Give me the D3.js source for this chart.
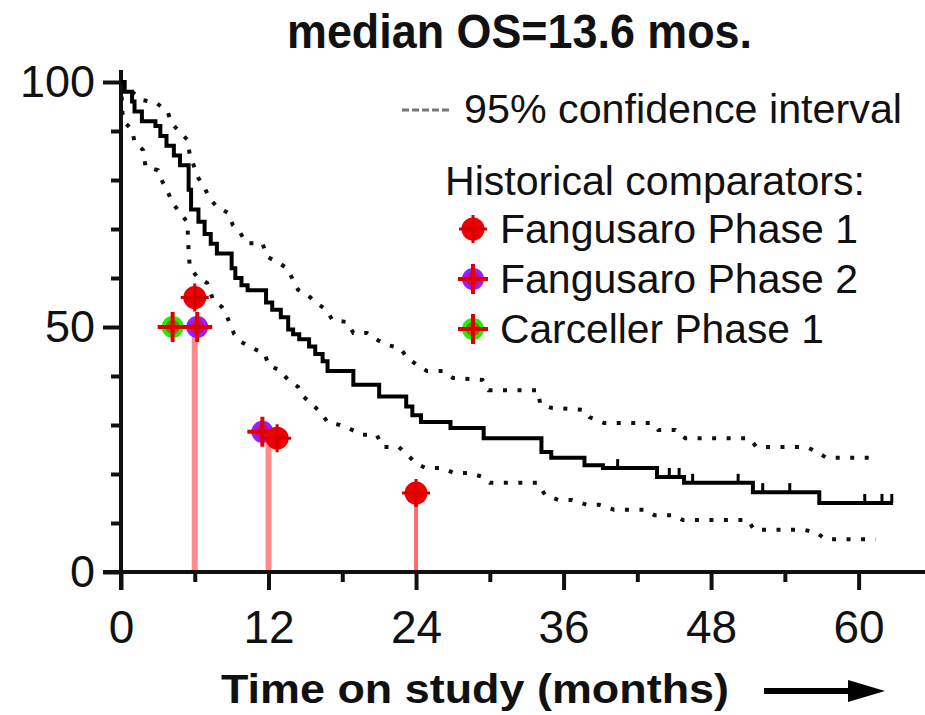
<!DOCTYPE html>
<html>
<head>
<meta charset="utf-8">
<script src="https://cdn.jsdelivr.net/npm/d3@7"></script>
<style>
  body { margin: 0; background: #fff; }
  text { font-family: "Liberation Sans", Arial, sans-serif; fill: #111; }
</style>
</head>
<body>
<div id="canvas"></div>
<script>
// Kaplan-Meier estimate (step function), months / % surviving
const kmTime = [0, 0.3, 0.9, 1.1, 1.7, 2.8, 3.2, 3.7, 4.3, 4.8, 5.5, 5.7, 6.3, 6.8, 7.3, 7.8, 9.0, 9.3, 9.8, 10.3, 11.8, 12.3, 13.0, 13.6, 14.0, 14.5, 15.3, 15.8, 16.4, 16.8, 18.9, 21.0, 23.2, 23.7, 24.4, 26.8, 29.5, 34.2, 35.0, 37.7, 39.2, 43.6, 45.8, 51.4, 56.8, 62.8];
const kmSurv = [100, 98, 96, 94, 92, 91, 89, 87, 85, 83, 78, 74, 71.5, 69, 67, 65, 62, 60, 58.5, 57.5, 55, 53.5, 52, 49.5, 48.5, 47.5, 46, 44.5, 43, 41, 38.2, 35.8, 33.8, 32, 30.6, 29.4, 27.3, 24.5, 23.3, 21.8, 21.2, 19.4, 18.2, 16.3, 14.1, 14.1];

// censored observations
const censorTime = [40.4, 44.6, 45.4, 46.5, 50.2, 52.2, 54.4, 60.5, 61.9, 62.7];

// 95% confidence interval
const ciUpperTime = [0, 0.9, 1.8, 2.9, 3.8, 4.1, 4.8, 5.4, 5.6, 6.3, 6.8, 7.2, 7.8, 8.7, 9.1, 9.7, 10.2, 11.5, 11.9, 12.7, 13.5, 14.0, 14.4, 15.2, 15.9, 16.7, 17.2, 18.4, 18.9, 20.0, 20.9, 21.7, 22.7, 23.3, 24.1, 24.9, 26.2, 27.0, 29.4, 29.9, 33.9, 34.1, 35.0, 37.6, 38.1, 39.3, 43.2, 43.7, 45.1, 45.9, 51.1, 51.7, 55.8, 56.6, 57.4, 61.5];
const ciUpperSurv = [100, 98, 96.3, 95.7, 93.9, 91.6, 89.8, 88.2, 85.1, 80.4, 78.4, 76.3, 74.5, 73.3, 70.8, 69.2, 67.1, 67.1, 64.3, 63.3, 62, 59.6, 57.6, 56.5, 54.9, 53.5, 51.4, 51, 48.8, 48.8, 47.3, 46.3, 45.7, 43.7, 42.2, 41, 41, 39.6, 39.2, 37.1, 37.1, 34.3, 33.5, 33.1, 31.6, 30.4, 30.4, 29, 29, 27.3, 27.3, 25.5, 25.5, 24.5, 23.3, 23.3];
const ciLowerTime = [0, 0.15, 0.9, 1.1, 1.8, 2.0, 3.0, 3.3, 3.8, 4.2, 4.8, 5.4, 5.45, 5.5, 5.6, 6.2, 7.0, 7.5, 8.2, 8.5, 8.9, 9.2, 9.8, 10.7, 11.7, 12.0, 12.9, 13.6, 14.4, 14.8, 16.2, 16.8, 17.8, 18.8, 19.6, 20.8, 21.3, 22.6, 23.3, 24.0, 24.8, 26.1, 27.1, 28.4, 29.4, 30.0, 33.9, 34.5, 35.6, 36.7, 37.9, 38.9, 40.1, 42.6, 43.4, 44.9, 45.7, 51.0, 51.5, 55.6, 56.6, 57.3, 61.4];
const ciLowerSurv = [100, 92.2, 90.2, 87.8, 86.1, 82.7, 82, 80, 77.6, 75.3, 73.3, 71.4, 68.4, 65.3, 62.2, 60.2, 59, 55.5, 54.1, 52.9, 50.4, 48.6, 46.9, 45.7, 44.5, 42.2, 41.2, 39.2, 37.8, 35.9, 32.7, 30.6, 30, 29, 28, 28, 25.5, 25.5, 23.9, 22.2, 21.2, 21.2, 20.2, 20.2, 19.4, 18.2, 18.2, 15.7, 14.7, 14.7, 13.7, 13.7, 12.7, 12.7, 11.6, 11.6, 10.6, 10.6, 8.6, 8.6, 8, 6.7, 6.7];

// historical comparators
const studyNames = ["Fangusaro Phase 1", "Fangusaro Phase 2", "Carceller Phase 1"];
const f1Time = [6, 12.7, 24];
const f1Surv = [56, 27.3, 16.1];
const f2Time = [6.2, 11.5];
const f2Surv = [50, 28.6];
const c1Time = [4.2];
const c1Surv = [50];
const stemTime = [6, 12, 24];
const stemSurv = [50, 27.5, 16];

const xMajor = [0, 12, 24, 36, 48, 60];
const xMinor = [6, 18, 30, 42, 54];
const yMajor = [0, 50, 100];
const yMinor = [10, 20, 30, 40, 60, 70, 80, 90];

const width = 925;
const height = 715;

const svg = d3.select("#canvas").append("svg")
    .attr("width", width)
    .attr("height", height);

const x = d3.scaleLinear().domain([0, 65.4]).range([121, 925]);
const y = d3.scaleLinear().domain([0, 100]).range([572, 82]);

// title
svg.append("text")
    .attr("x", 287).attr("y", 48)
    .attr("textLength", 465).attr("lengthAdjust", "spacingAndGlyphs")
    .style("font-size", "48px").style("font-weight", "bold")
    .text("median OS=13.6 mos.");

// stems for the comparators
svg.selectAll(".stem").data(stemTime).enter().append("line")
    .attr("class", "stem")
    .attr("x1", d => x(d)).attr("x2", d => x(d))
    .attr("y1", (d, i) => y(stemSurv[i])).attr("y2", y(0))
    .attr("stroke", (d, i) => i == 2 ? "#ff6a6a" : "#ff8c8c")
    .attr("stroke-width", (d, i) => i == 2 ? 4 : 6);

// axes
const xAxis = svg.append("g")
    .attr("transform", `translate(0,${y(0)})`)
    .call(d3.axisBottom(x).tickValues(xMajor).tickSize(18).tickPadding(20).tickSizeOuter(0));
svg.append("g")
    .attr("transform", `translate(0,${y(0)})`)
    .call(d3.axisBottom(x).tickValues(xMinor).tickSize(10).tickFormat("").tickSizeOuter(0))
    .select(".domain").remove();
xAxis.select(".domain").remove();
xAxis.selectAll("text").style("font-size", "46px").attr("fill", "#111");

const yAxis = svg.append("g")
    .attr("transform", `translate(${x(0)},0)`)
    .call(d3.axisLeft(y).tickValues(yMajor).tickSize(18).tickPadding(8).tickSizeOuter(0));
svg.append("g")
    .attr("transform", `translate(${x(0)},0)`)
    .call(d3.axisLeft(y).tickValues(yMinor).tickSize(10).tickFormat("").tickSizeOuter(0))
    .select(".domain").remove();
yAxis.select(".domain").remove();
yAxis.selectAll("text").style("font-size", "45px").attr("fill", "#111");

svg.selectAll(".tick line").attr("stroke", "#111").attr("stroke-width", 4);

svg.append("line")
    .attr("x1", 103).attr("x2", 925).attr("y1", y(0)).attr("y2", y(0))
    .attr("stroke", "#111").attr("stroke-width", 4);
svg.append("line")
    .attr("x1", x(0)).attr("x2", x(0)).attr("y1", 70).attr("y2", y(0) + 18)
    .attr("stroke", "#111").attr("stroke-width", 4);

// confidence interval
const lin = d3.line().x(d => x(d[0])).y(d => y(d[1]));
[[ciUpperTime, ciUpperSurv], [ciLowerTime, ciLowerSurv]].forEach(c => {
    svg.append("path")
        .datum(c[0].map((t, i) => [t, c[1][i]]))
        .attr("d", lin)
        .attr("fill", "none")
        .attr("stroke", "#111")
        .attr("stroke-width", 4)
        .attr("stroke-dasharray", "4,10.5");
});

// KM curve
const step = d3.line().x(d => x(d[0])).y(d => y(d[1])).curve(d3.curveStepAfter);
svg.append("path")
    .datum(kmTime.map((t, i) => [t, kmSurv[i]]))
    .attr("d", step)
    .attr("fill", "none")
    .attr("stroke", "#000")
    .attr("stroke-width", 4);

function survAt(t) {
    let s = kmSurv[0];
    kmTime.forEach((k, i) => { if (k <= t) s = kmSurv[i]; });
    return s;
}
svg.selectAll(".censor").data(censorTime).enter().append("line")
    .attr("class", "censor")
    .attr("x1", d => x(d)).attr("x2", d => x(d))
    .attr("y1", d => y(survAt(d))).attr("y2", d => y(survAt(d)) - 9)
    .attr("stroke", "#000").attr("stroke-width", 3);

// markers
function marker(g, cx, cy, kind) {
    if (kind == 0) {
        g.append("circle").attr("cx", cx).attr("cy", cy).attr("r", 11.5).attr("fill", "#ee0000");
        g.append("path").attr("d", `M${cx - 14},${cy}H${cx + 14}M${cx},${cy - 14}V${cy + 14}`)
            .attr("stroke", "#d40000").attr("stroke-width", 3);
    } else {
        const col = kind == 1 ? "#9b1cff" : "#22ee00";
        const mid = kind == 1 ? "#c4126a" : "#9a6a00";
        g.append("circle").attr("cx", cx).attr("cy", cy).attr("r", 11).attr("fill", col);
        g.append("circle").attr("cx", cx).attr("cy", cy).attr("r", 7).attr("fill", mid);
        g.append("path").attr("d", `M${cx - 15},${cy}H${cx + 15}M${cx},${cy - 15}V${cy + 15}`)
            .attr("stroke", "#e00000").attr("stroke-width", 4);
    }
}
const mg = svg.append("g");
c1Time.forEach((t, i) => marker(mg, x(t), y(c1Surv[i]), 2));
f2Time.forEach((t, i) => marker(mg, x(t), y(f2Surv[i]), 1));
f1Time.forEach((t, i) => marker(mg, x(t), y(f1Surv[i]), 0));

// legend
const lg = svg.append("g");
lg.append("line")
    .attr("x1", 402).attr("x2", 452).attr("y1", 110).attr("y2", 110)
    .attr("stroke", "#777").attr("stroke-width", 3).attr("stroke-dasharray", "7,3");
lg.append("text").attr("x", 464).attr("y", 123)
    .attr("textLength", 438).attr("lengthAdjust", "spacingAndGlyphs")
    .style("font-size", "41px").attr("fill", "#222")
    .text("95% confidence interval");
lg.append("text").attr("x", 445).attr("y", 195)
    .attr("textLength", 420).attr("lengthAdjust", "spacingAndGlyphs")
    .style("font-size", "41px").attr("fill", "#222")
    .text("Historical comparators:");
const itemY = [243, 293, 343];
const itemW = [358, 358, 324];
studyNames.forEach((n, i) => {
    marker(lg, 473, itemY[i] - 14, i);
    lg.append("text").attr("x", 500).attr("y", itemY[i])
        .attr("textLength", itemW[i]).attr("lengthAdjust", "spacingAndGlyphs")
        .style("font-size", "41px").attr("fill", "#222")
        .text(n);
});

// x axis title and arrow
svg.append("text")
    .attr("x", 221).attr("y", 703)
    .attr("textLength", 508).attr("lengthAdjust", "spacingAndGlyphs")
    .style("font-size", "41px").style("font-weight", "bold")
    .text("Time on study (months)");
svg.append("line")
    .attr("x1", 764).attr("x2", 852).attr("y1", 691).attr("y2", 691)
    .attr("stroke", "#000").attr("stroke-width", 6);
svg.append("path")
    .attr("d", "M848,680L885,691L848,702Z")
    .attr("fill", "#000");
</script>
</body>
</html>
